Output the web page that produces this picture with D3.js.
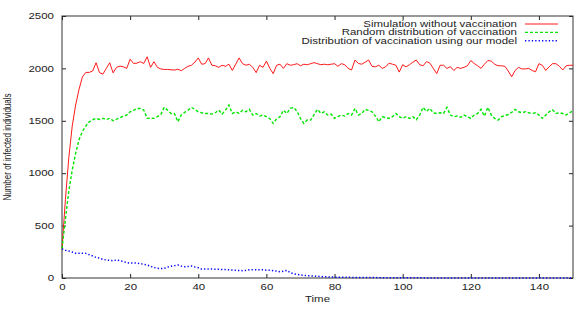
<!DOCTYPE html>
<html>
<head>
<meta charset="utf-8">
<script src="https://d3js.org/d3.v7.min.js"></script>
<style>
  body { margin: 0; background: #fff; }
  svg { display: block; font-family: "Liberation Sans", Arial, Helvetica, sans-serif; }
</style>
</head>
<body>
<svg id="chart"></svg>
<script>
// infected individuals per time step (t = 0..150)
const noVaccination = [
  280, 750, 1150, 1450, 1650, 1800, 1920, 1962, 1962, 1975,
  2054, 1960, 1945, 2000, 2054, 1958, 2010, 2022, 2015, 2000,
  2088, 2047, 2050, 2064, 2047, 2111, 2010, 2064, 2010, 1995,
  1990, 1990, 1987, 1984, 1992, 1978, 2000, 2020, 2030, 2060,
  2100, 2040, 2045, 2100, 2030, 2025, 2010, 2030, 2020, 2040,
  1980, 2040, 2100, 2045, 2030, 2040, 2010, 1960, 2030, 2010,
  2070, 2000, 1950, 2030, 2040, 2000, 2045, 2030, 2035, 2045,
  2025, 2040, 2035, 2045, 2055, 2045, 2035, 2040, 2035, 2040,
  2045, 2020, 2045, 2035, 2000, 1985, 2080, 2047, 2040, 2060,
  2080, 2020, 2015, 2030, 2000, 2015, 2050, 2040, 2030, 1965,
  2035, 2015, 2035, 2060, 2080, 2035, 2025, 2065, 2050, 2000,
  1950, 2030, 2030, 2000, 2016, 1980, 2010, 2000, 2010, 2025,
  2075, 2047, 2025, 2000, 2040, 2075, 2070, 2040, 2025, 2025,
  2020, 1975, 1920, 1980, 2010, 1995, 1995, 2000, 1980, 1968,
  2045, 2030, 1980, 2016, 2045, 2045, 2020, 1985, 2025, 2030,
  2030
];
const randomVaccination = [
  280, 560, 830, 1030, 1190, 1320, 1400, 1450, 1491, 1510,
  1523, 1513, 1523, 1513, 1523, 1501, 1515, 1530, 1545, 1555,
  1586, 1600, 1618, 1618, 1602, 1523, 1525, 1523, 1540, 1560,
  1628, 1602, 1570, 1570, 1491, 1555, 1580, 1602, 1628, 1609,
  1586, 1577, 1570, 1570, 1564, 1577, 1602, 1564, 1602, 1650,
  1570, 1586, 1570, 1600, 1586, 1609, 1555, 1570, 1545, 1555,
  1539, 1520, 1475, 1520, 1539, 1600, 1570, 1618, 1628, 1590,
  1523, 1475, 1507, 1507, 1560, 1609, 1570, 1586, 1555, 1564,
  1523, 1539, 1555, 1545, 1570, 1555, 1618, 1555, 1570, 1609,
  1600, 1586, 1545, 1491, 1540, 1530, 1523, 1539, 1570, 1539,
  1523, 1539, 1523, 1539, 1510, 1555, 1628, 1590, 1618, 1575,
  1570, 1577, 1570, 1628, 1555, 1539, 1545, 1533, 1555, 1539,
  1523, 1555, 1570, 1609, 1545, 1628, 1555, 1523, 1507, 1539,
  1550, 1560, 1580, 1609, 1586, 1577, 1586, 1577, 1570, 1577,
  1555, 1523, 1555, 1586, 1605, 1570, 1577, 1570, 1555, 1577,
  1595
];
const modelVaccination = [
  277, 265, 258, 248, 237, 235, 236, 235, 222, 210,
  196, 189, 178, 172, 168, 165, 172, 165, 157, 147,
  143, 143, 143, 137, 130, 124, 112, 100, 93, 90,
  92, 104, 112, 118, 124, 114, 108, 110, 114, 105,
  98, 85, 85, 85, 85, 84, 83, 81, 80, 78,
  76, 74, 72, 70, 74, 79, 79, 79, 79, 78,
  75, 73, 70, 66, 60, 65, 72, 51, 40, 35,
  29, 26, 22, 20, 18, 16, 14, 12, 10, 9,
  8, 8, 7, 7, 6, 6, 5, 5, 5, 4,
  4, 4, 4, 3, 3, 3, 3, 3, 2, 2,
  2, 2, 2, 2, 2, 2, 1, 1, 1, 1,
  1, 1, 1, 1, 1, 1, 1, 1, 1, 1,
  1, 1, 1, 1, 1, 0, 0, 0, 0, 0,
  1, 0, 0, 0, 0, 0, 0, 0, 0, 0,
  0, 0, 0, 0, 0, 0, 0, 0, 0, 0,
  0
];
const seriesNames = [
  "Simulation without vaccination",
  "Random distribution of vaccination",
  "Distribution of vaccination using our model"
];
const xTicks = [0, 20, 40, 60, 80, 100, 120, 140];
const yTicks = [0, 500, 1000, 1500, 2000, 2500];

const width = 576, height = 309;
const margin = {top: 16, right: 3, bottom: 31, left: 62};
const SX = 1.4; // glyphs in the original are stretched sideways
const FS = 8.2;

const svg = d3.select("#chart")
  .attr("width", width)
  .attr("height", height);

const x = d3.scaleLinear().domain([0, 150]).range([margin.left, width - margin.right]);
const y = d3.scaleLinear().domain([0, 2500]).range([height - margin.bottom, margin.top]);

// axes: gnuplot style, ticks pointing inward on all four sides
const xAxis = svg.append("g")
  .attr("transform", `translate(0,${y(0)})`)
  .call(d3.axisBottom(x).tickValues(xTicks).tickSize(-4).tickSizeOuter(0).tickPadding(6)
    .tickFormat(d3.format("d")));
const yAxis = svg.append("g")
  .attr("transform", `translate(${x(0)},0)`)
  .call(d3.axisLeft(y).tickValues(yTicks).tickSize(-4).tickSizeOuter(0)
    .tickFormat(d3.format("d")));
svg.append("g")
  .attr("transform", `translate(0,${y(2500)})`)
  .call(d3.axisTop(x).tickValues(xTicks).tickSize(-4).tickSizeOuter(0).tickFormat(""));
svg.append("g")
  .attr("transform", `translate(${x(150)},0)`)
  .call(d3.axisRight(y).tickValues(yTicks).tickSize(-4).tickSizeOuter(0).tickFormat(""));

svg.selectAll(".domain").remove();
svg.selectAll(".tick line").attr("stroke", "#222");

xAxis.selectAll("text")
  .attr("font-size", FS).attr("fill", "#222")
  .attr("transform", `scale(${SX},1)`);
yAxis.selectAll("text")
  .attr("font-size", FS).attr("fill", "#222")
  .attr("x", -8 / SX)
  .attr("transform", `scale(${SX},1)`);

svg.append("rect")
  .attr("x", x(0)).attr("y", y(2500))
  .attr("width", x(150) - x(0)).attr("height", y(0) - y(2500))
  .attr("fill", "none").attr("stroke", "#333").attr("stroke-width", 1);

// axis titles
svg.append("text")
  .attr("transform", `translate(${(x(0) + x(150)) / 2},302) scale(${SX},1)`)
  .attr("text-anchor", "middle").attr("font-size", FS).attr("fill", "#222")
  .text("Time");
svg.append("text")
  .attr("transform", `translate(11,${(y(0) + y(2500)) / 2}) scale(${SX},1) rotate(-90)`)
  .attr("text-anchor", "middle").attr("font-size", 8).attr("fill", "#222")
  .text("Number of infected individuals");

// lines
const styles = [
  {color: "#ff0000", width: 0.9, dash: null},
  {color: "#00e600", width: 1.4, dash: "3,2"},
  {color: "#0000ff", width: 1.5, dash: "1.3,2.1"}
];
const allSeries = [noVaccination, randomVaccination, modelVaccination];

const line = d3.line()
  .x((d, i) => x(i))
  .y(d => y(d));

allSeries.forEach((values, k) => {
  svg.append("path")
    .datum(values)
    .attr("fill", "none")
    .attr("stroke", styles[k].color)
    .attr("stroke-width", styles[k].width)
    .attr("stroke-dasharray", styles[k].dash)
    .attr("d", line);
});

// legend, top right
const legend = svg.append("g");
seriesNames.forEach((name, k) => {
  const cy = 24 + k * 8.35;
  legend.append("text")
    .attr("transform", `translate(517,${cy + 2.9}) scale(${SX},1)`)
    .attr("text-anchor", "end").attr("font-size", FS).attr("fill", "#222")
    .text(name);
  legend.append("line")
    .attr("x1", 525).attr("x2", 558).attr("y1", cy).attr("y2", cy)
    .attr("stroke", styles[k].color)
    .attr("stroke-width", styles[k].width)
    .attr("stroke-dasharray", styles[k].dash);
});
</script>
</body>
</html>
